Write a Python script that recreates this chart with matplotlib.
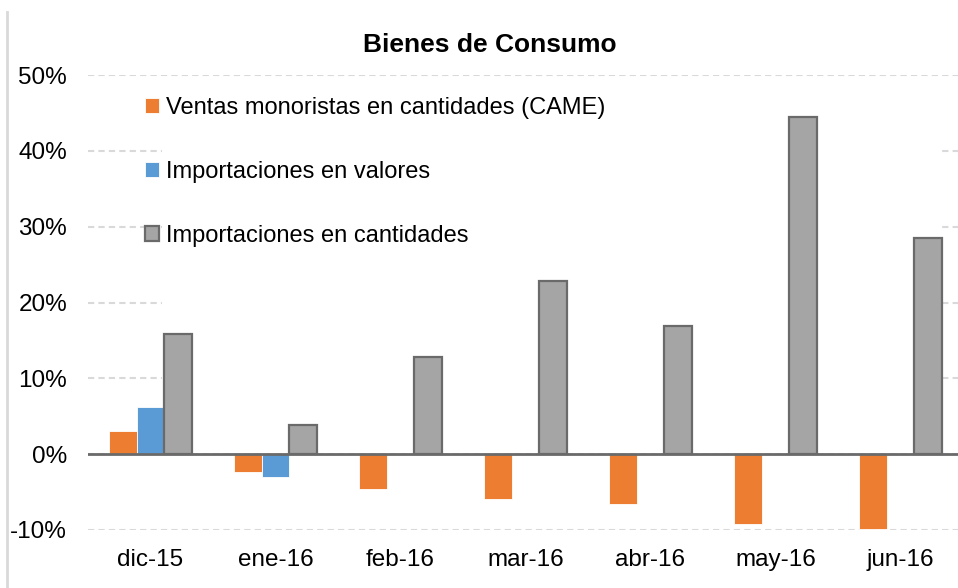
import numpy as np
import matplotlib.pyplot as plt
from matplotlib.patches import Rectangle
from matplotlib.lines import Line2D

plt.rcParams['font.family'] = ['Liberation Sans', 'DejaVu Sans']

meses = ['dic-15', 'ene-16', 'feb-16', 'mar-16', 'abr-16', 'may-16', 'jun-16']
ventas_came = [3.0, -2.4, -4.6, -5.9, -6.6, -9.2, -9.9]
import_valores = [6.2, -3.0, np.nan, np.nan, np.nan, np.nan, np.nan]
import_cantidades = [15.9, 3.8, 12.8, 22.9, 16.9, 44.5, 28.5]

fig = plt.figure(figsize=(9.58, 5.88), dpi=100)
ax = fig.add_axes([88 / 958, 1 - 530 / 588, 1 - 88 / 958, 455 / 588])

x = np.arange(len(meses))
w = 0.22

ax.bar(x - w, ventas_came, w, color='#ED7D31', edgecolor='white', linewidth=0.6,
       label='Ventas monoristas en cantidades (CAME)', zorder=3)
ax.bar(x, import_valores, w, color='#5B9BD5', edgecolor='white', linewidth=0.6,
       label='Importaciones en valores', zorder=3)
ax.bar(x + w, import_cantidades, w, color='#A5A5A5', edgecolor='#6a6a6a', linewidth=1.6,
       label='Importaciones en cantidades', zorder=3)

ax.set_xlim(-0.5, 6.46)
ax.set_ylim(-10, 50)
ax.set_yticks(np.arange(-10, 51, 10))
ax.set_yticklabels([f'{v}%' for v in range(-10, 51, 10)])
ax.set_xticks(x)
ax.set_xticklabels(meses)
ax.tick_params(axis='both', length=0, labelsize=17.5, colors='black')
ax.tick_params(axis='y', pad=15)
ax.tick_params(axis='x', pad=14)

for s in ax.spines.values():
    s.set_visible(False)

ax.yaxis.grid(True, color='#d9d9d9', linestyle=(0, (3, 2)), linewidth=1.5, zorder=0)
ax.set_axisbelow(True)
ax.axhline(0, color='#6a6a6a', linewidth=2, zorder=4)

# white block hiding the inner gridlines
ax.add_patch(Rectangle(((162 - 88) / 870, 0.17), (942 - 162) / 870, 0.805,
                       transform=ax.transAxes, facecolor='white', edgecolor='none', zorder=1))

fig.text(490 / 958, 1 - 45 / 588, 'Bienes de Consumo', ha='center', va='center',
         fontsize=19, fontweight='bold')

fig.add_artist(Line2D([7 / 958, 7 / 958], [0, 1 - 12 / 588], transform=fig.transFigure,
                      color='#d9d9d9', linewidth=2))

leg = ax.legend(loc='upper left', bbox_to_anchor=(145 / 958, 1 - 97 / 588),
                bbox_transform=fig.transFigure, frameon=False, fontsize=17,
                handlelength=0.6, handleheight=0.6, handletextpad=0.3,
                labelspacing=1.78, borderpad=0, borderaxespad=0)

fig.savefig('out.png', dpi=100)
